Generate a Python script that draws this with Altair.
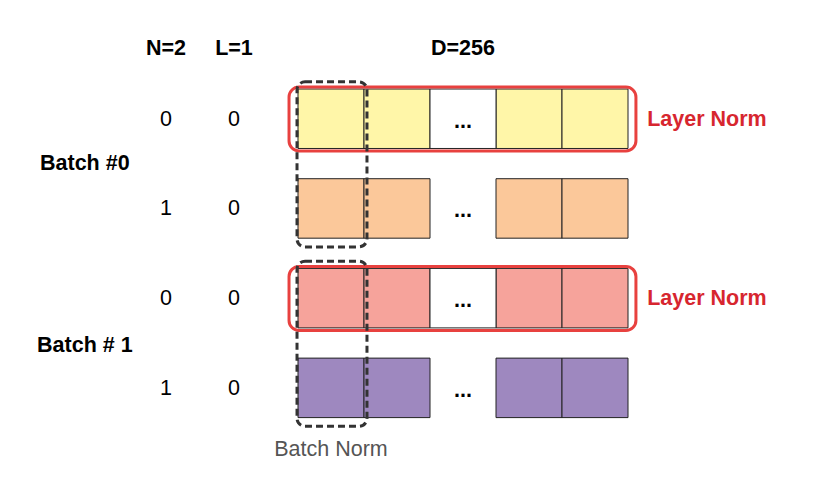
import altair as alt
import pandas as pd

# ---- data ----
row_ids = [0, 1, 2, 3]
row_colors = ["#fff6a8", "#fbc89a", "#f6a39b", "#9e88bf"]
n_labels = ["0", "1", "0", "1"]
l_labels = ["0", "0", "0", "0"]
filled_cols = [0, 1, 3, 4]
ellipsis_col = 2
layer_norm_rows = [0, 2]
batch_groups = [[0, 1], [2, 3]]
batch_labels = ["Batch #0", "Batch # 1"]
headers = ["N=2", "L=1", "D=256"]
header_cols = [-2.0, -0.97, 2.5]

ROW_H = 0.663
FONT = "Liberation Sans"

xs = alt.Scale(domain=[-4.394, 7.727], nice=False, zero=False)
ys = alt.Scale(domain=[-0.903, 4.236], nice=False, zero=False, reverse=True)

# cells
cells = []
for r, col in zip(row_ids, row_colors):
    for c in filled_cols:
        cells.append(dict(x=c, x2=c + 1, y=r, y2=r + ROW_H, fill=col))
for r in layer_norm_rows:
    cells.append(dict(x=ellipsis_col, x2=ellipsis_col + 1, y=r, y2=r + ROW_H, fill="#ffffff"))
cells_df = pd.DataFrame(cells)

cell_layer = alt.Chart(cells_df).mark_rect(stroke="#222222", strokeWidth=1).encode(
    x=alt.X("x:Q", scale=xs, axis=None),
    x2="x2:Q",
    y=alt.Y("y:Q", scale=ys, axis=None),
    y2="y2:Q",
    fill=alt.Fill("fill:N", scale=None),
)

# layer norm boxes
ln_df = pd.DataFrame([dict(x=-0.136, x2=5.12, y=r - 0.022, y2=r + 0.691) for r in layer_norm_rows])
ln_layer = alt.Chart(ln_df).mark_rect(
    fillOpacity=0, stroke="#e8413f", strokeWidth=3, cornerRadius=10
).encode(x=alt.X("x:Q", scale=xs, axis=None), x2="x2:Q",
         y=alt.Y("y:Q", scale=ys, axis=None), y2="y2:Q")

# batch norm dashed boxes
bn_df = pd.DataFrame([dict(x=-0.015, x2=1.045, y=g[0] - 0.08, y2=g[1] + 0.76) for g in batch_groups])
bn_layer = alt.Chart(bn_df).mark_rect(
    fillOpacity=0, stroke="#333333", strokeWidth=3, strokeDash=[7, 4], cornerRadius=8
).encode(x=alt.X("x:Q", scale=xs, axis=None), x2="x2:Q",
         y=alt.Y("y:Q", scale=ys, axis=None), y2="y2:Q")

# texts
def text_layer(df, **kw):
    return alt.Chart(df).mark_text(font=FONT, fontSize=21.5, dy=1, **kw).encode(
        x=alt.X("x:Q", scale=xs, axis=None),
        y=alt.Y("y:Q", scale=ys, axis=None),
        text="t:N",
    )

hdr_df = pd.DataFrame(dict(x=header_cols, y=[-0.457] * 3, t=headers))
idx_rows = []
for r, n, l in zip(row_ids, n_labels, l_labels):
    idx_rows.append(dict(x=-2.0, y=r + ROW_H / 2, t=n))
    idx_rows.append(dict(x=-0.97, y=r + ROW_H / 2, t=l))
idx_df = pd.DataFrame(idx_rows)
dots_df = pd.DataFrame(dict(x=[2.5] * 4, y=[r + ROW_H / 2 + 0.02 for r in row_ids], t=["..."] * 4))
batch_df = pd.DataFrame(dict(x=[-3.23, -3.23], y=[0.825, 2.85], t=batch_labels))
ln_txt_df = pd.DataFrame(dict(x=[5.29] * 2, y=[r + ROW_H / 2 for r in layer_norm_rows], t=["Layer Norm"] * 2))
bn_txt_df = pd.DataFrame(dict(x=[0.5], y=[4.01], t=["Batch Norm"]))

chart = alt.layer(
    cell_layer,
    ln_layer,
    bn_layer,
    text_layer(hdr_df, fontWeight="bold", color="#000000"),
    text_layer(idx_df, color="#000000"),
    text_layer(dots_df, fontWeight="bold", color="#000000"),
    text_layer(batch_df, fontWeight="bold", color="#000000"),
    text_layer(ln_txt_df, fontWeight="bold", color="#d7262f", align="left"),
    text_layer(bn_txt_df, color="#555555"),
).properties(
    width=800, height=461, autosize=alt.AutoSizeParams(type="none"), padding=0
).configure_view(stroke=None)

chart.save("out.html", embed_options={"renderer": "svg", "actions": False})
